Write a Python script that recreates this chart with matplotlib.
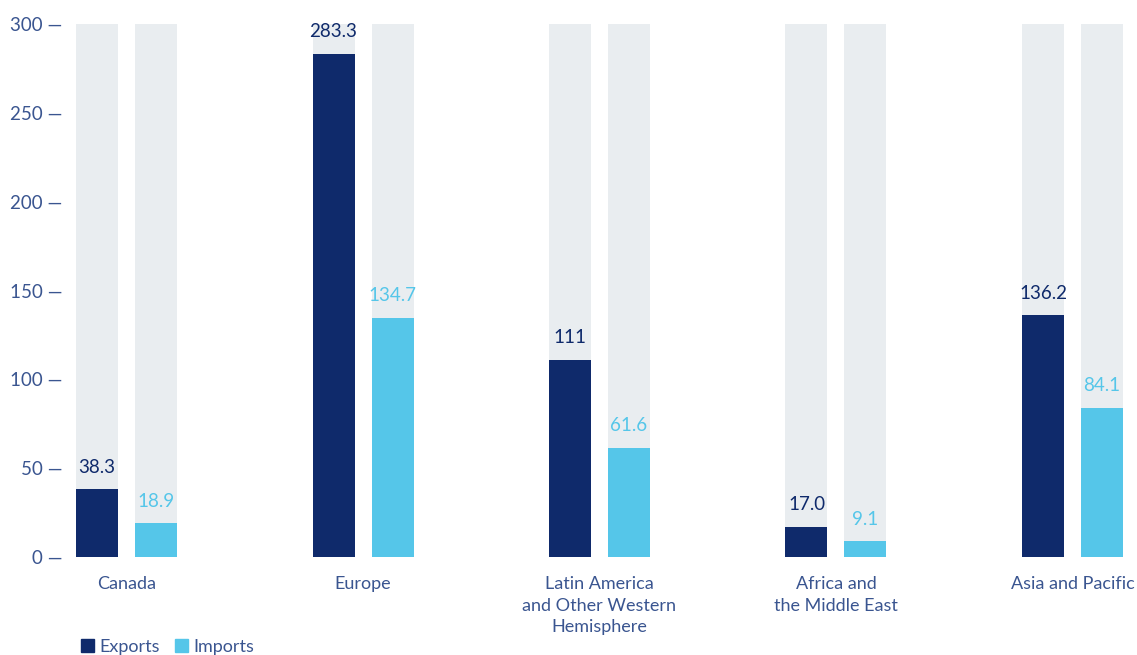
import matplotlib.pyplot as plt
import numpy as np

# data
regions = ["Canada", "Europe", "Latin America\nand Other Western\nHemisphere",
           "Africa and\nthe Middle East", "Asia and Pacific"]
exports = [38.3, 283.3, 111, 17.0, 136.2]
imports = [18.9, 134.7, 61.6, 9.1, 84.1]
export_labels = ["38.3", "283.3", "111", "17.0", "136.2"]
import_labels = ["18.9", "134.7", "61.6", "9.1", "84.1"]
yticks = [0, 50, 100, 150, 200, 250, 300]

navy = "#0f2a6b"
cyan = "#55c6e9"
grey = "#e9edf0"
txt = "#3a5590"

plt.rcParams['font.family'] = ['Lato', 'DejaVu Sans']

W, H = 1137, 655
fig = plt.figure(figsize=(W / 100, H / 100), dpi=100)
left_px, right_px = 68, 1132
ax = fig.add_axes([left_px / W, (H - 557) / H, (right_px - left_px) / W, (557 - 24) / H])

step = 236.5
x0 = 126.5
ax.set_xlim((left_px - x0) / step, (right_px - x0) / step)
ax.set_ylim(0, 300)

x = np.arange(len(regions))
bw = 42 / step
off = 29.5 / step

# background bars to the top
ax.bar(x - off, [300] * len(x), width=bw, color=grey, zorder=1)
ax.bar(x + off, [300] * len(x), width=bw, color=grey, zorder=1)
ax.bar(x - off, exports, width=bw, color=navy, zorder=2)
ax.bar(x + off, imports, width=bw, color=cyan, zorder=2)

for i in range(len(x)):
    ax.text(x[i] - off, exports[i] + 7.5, export_labels[i], ha="center", va="bottom",
            fontsize=13.5, color=navy, zorder=3)
    ax.text(x[i] + off, imports[i] + 7.5, import_labels[i], ha="center", va="bottom",
            fontsize=13.5, color=cyan, zorder=3)

ax.set_yticks(yticks)
ax.set_yticklabels([f"{v} —" for v in yticks], fontsize=13.5, color=txt)
ax.tick_params(axis="y", length=0, pad=4)
ax.set_xticks(x)
ax.set_xticklabels(regions, fontsize=13, color=txt, linespacing=1.4)
ax.tick_params(axis="x", length=0, pad=14)
for s in ax.spines.values():
    s.set_visible(False)

# legend
handles = [plt.Rectangle((0, 0), 1, 1, color=navy), plt.Rectangle((0, 0), 1, 1, color=cyan)]
leg = fig.legend(handles, ["Exports", "Imports"], loc="lower left",
                 bbox_to_anchor=(70 / W, -0.016), ncol=2, frameon=False,
                 fontsize=13, handlelength=0.75, handleheight=0.75,
                 handletextpad=0.3, columnspacing=0.8, borderaxespad=0.2)
for t in leg.get_texts():
    t.set_color(txt)

fig.savefig("out.png", dpi=100)
